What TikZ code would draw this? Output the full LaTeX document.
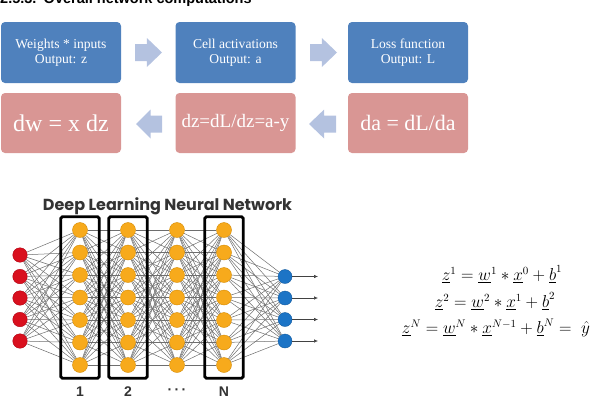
\documentclass[tikz,border=0pt]{standalone}
\usepackage{fontspec}
\setmainfont{Liberation Serif}
\newfontfamily\arialf{Liberation Sans}
\newfontfamily\popf{Poppins}
\usetikzlibrary{fit,arrows.meta}
\definecolor{blueb}{HTML}{4F81BD}
\definecolor{pinkb}{HTML}{D99694}
\definecolor{arrowc}{HTML}{B4C2E0}
\definecolor{inred}{HTML}{D9101E}
\definecolor{inredd}{HTML}{B00010}
\definecolor{hidor}{HTML}{F7AA1C}
\definecolor{hidord}{HTML}{D58A00}
\definecolor{outbl}{HTML}{1C74C6}
\definecolor{outbld}{HTML}{135A9E}
\definecolor{edgec}{HTML}{6E6E6E}
\definecolor{ttl}{HTML}{333333}
\pgfdeclarelayer{bg}
\pgfsetlayers{bg,main}
\newcommand\blkarrow[3]{% #1 tail x, #2 tip x, #3 centre y
  \fill[arrowc] (#1,{#3-8.5}) -- ({#2-(#2-#1)*0.56},{#3-8.5}) -- ({#2-(#2-#1)*0.56},{#3-14.5})
    -- (#2,#3) -- ({#2-(#2-#1)*0.56},{#3+14.5}) -- ({#2-(#2-#1)*0.56},{#3+8.5}) -- (#1,{#3+8.5}) -- cycle;}
\tikzset{
  topbox/.style={fill=blueb, rounded corners=4pt, minimum width=120pt, minimum height=61pt,
    text=white, align=center, inner sep=0pt, font=\fontsize{13.6}{15.5}\selectfont},
  botbox/.style={fill=pinkb, rounded corners=4pt, minimum width=120pt, minimum height=60pt,
    text=white, align=center, inner sep=0pt},
  inn/.style={circle, fill=inred, draw=inredd, line width=0.4pt, minimum size=14.5pt, inner sep=0pt},
  hid/.style={circle, fill=hidor, draw=hidord, line width=0.4pt, minimum size=15pt, inner sep=0pt},
  outn/.style={circle, fill=outbl, draw=outbld, line width=0.4pt, minimum size=14pt, inner sep=0pt},
  edge/.style={draw=edgec, line width=0.5pt},
  layerbox/.style={draw=black, line width=2.8pt, rounded corners=1.5pt, inner xsep=11.5pt, inner ysep=5.5pt},
  lbl/.style={font=\arialf\bfseries\fontsize{14}{16}\selectfont, text=ttl},
  eqn/.style={font=\fontsize{16}{18}\selectfont, inner sep=0pt}
}
\begin{document}
\begin{tikzpicture}[x=1pt,y=-1pt]
\clip (0,0) rectangle (602,410);
\useasboundingbox (0,0) rectangle (602,410);
% clipped title
\node[anchor=base west, inner sep=0pt, font=\arialf\bfseries\fontsize{14.5}{17}\selectfont] (title) at (0,3) {2.5.3.\enspace Overall network computations};
% top row
\node[topbox] (b1) at (61,52.5) {Weights * inputs\\Output: z};
\node[topbox] (b2) at (235.5,52.5) {Cell activations\\Output: a};
\node[topbox] (b3) at (408,52.5) {Loss function\\Output: L};
% bottom row
\node[botbox, font=\fontsize{24}{26}\selectfont] (c1) at (61,123) {dw = x dz};
\node[botbox, font=\fontsize{19}{21}\selectfont] (c2) at (235.5,123) {dz=dL/dz=a-y};
\node[botbox, font=\fontsize{22}{24}\selectfont] (c3) at (408,123) {da = dL/da};
% block arrows
\blkarrow{135}{162}{52.5}
\blkarrow{310}{337}{52.5}
\blkarrow{162}{136}{124}
\blkarrow{336}{309}{124}
% neural network
\node[font=\popf\bfseries\fontsize{16}{18}\selectfont, text=ttl] (nntitle) at (167.5,206) {Deep Learning Neural Network};
\foreach \y [count=\k] in {255,276.5,298,319.5,341}
  \node[inn] (i\k) at (20,\y) {};
\foreach \l/\x in {1/80,2/128,3/177,4/224}
  \foreach \k in {1,...,7}
    \node[hid] (h\l-\k) at (\x,{230+(\k-1)*22.5}) {};
\foreach \y [count=\k] in {276.5,298,319.5,341}
  \node[outn] (o\k) at (285,\y) {};
\begin{pgfonlayer}{bg}
  \foreach \a in {1,...,5} \foreach \b in {1,...,7} \draw[edge] (i\a) -- (h1-\b);
  \foreach \l/\m in {1/2,2/3,3/4}
    \foreach \a in {1,...,7} \foreach \b in {1,...,7} \draw[edge] (h\l-\a) -- (h\m-\b);
  \foreach \a in {1,...,7} \foreach \b in {1,...,4} \draw[edge] (h4-\a) -- (o\b);
\end{pgfonlayer}
\foreach \k/\y in {1/276.5,2/298,3/319.5,4/341} {
  \coordinate (e\k) at (318,\y);
  \draw[edgec!60!black, line width=0.6pt, -{Latex[length=4pt,width=3.5pt]}] (o\k) -- (e\k);
}
\node[layerbox, fit=(h1-1)(h1-7)] (L1) {};
\node[layerbox, fit=(h2-1)(h2-7)] (L2) {};
\node[layerbox, fit=(h4-1)(h4-7)] (L4) {};
\node[lbl] (n1) at (80,392) {1};
\node[lbl] (n2) at (128,392) {2};
\node[lbl] (n3) at (177,392) {·\,·\,·};
\node[lbl] (n4) at (224,392) {N};
% equations
\node[eqn] (eq1) at (502,274) {$\underline{z}^1=\underline{w}^1\ast\underline{x}^0+\underline{b}^1$};
\node[eqn] (eq2) at (495,301) {$\underline{z}^2=\underline{w}^2\ast\underline{x}^1+\underline{b}^2$};
\node[eqn] (eq3) at (496,328) {$\underline{z}^N=\underline{w}^N\ast\underline{x}^{N-1}+\underline{b}^N=\;\hat{y}$};
\end{tikzpicture}
\end{document}
